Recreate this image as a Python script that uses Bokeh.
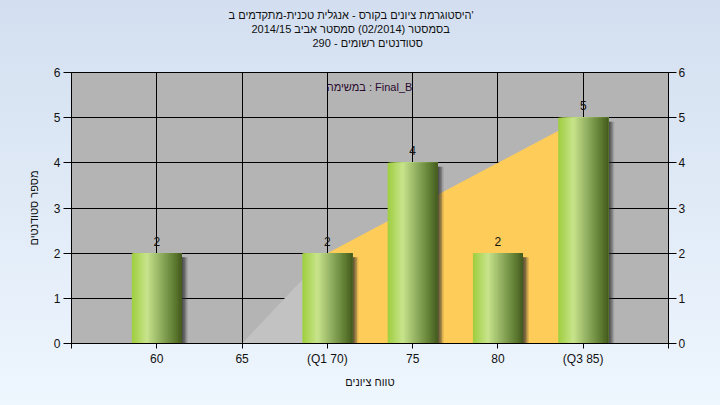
import numpy as np
from bokeh.plotting import figure
from bokeh.models import Range1d, FixedTicker, LinearAxis, Label, Title
from bokeh.embed import file_html
from bokeh.resources import INLINE
from bokeh.core.properties import value

# ---------------- data ----------------
title_lines = [
    "היסטוגרמת ציונים בקורס - אנגלית טכנית-מתקדמים ב'",
    "בסמסטר (02/2014) סמסטר אביב 2014/15",
    "סטודנטים רשומים - 290",
]
series_label = "במשימה : Final_B"
x_title = "טווח ציונים"
y_title = "מספר סטודנטים"
grades = [60, 65, 70, 75, 80, 85]
grade_labels = ["60", "65", "(Q1 70)", "75", "80", "(Q3 85)"]
counts = [2, 0, 2, 4, 2, 5]
iqr_x = [65, 70, 75, 80, 85]
iqr_y = [0, 2, 3, 4, 5]
q1, q3 = 70, 85
y_ticks = [0, 1, 2, 3, 4, 5, 6]

# ---------------- layout ----------------
W, H = 720, 405
BL, BR, BT, BB = 71, 52, 72, 62
FW, FH = W - BL - BR, H - BT - BB
X0, X1, Y0, Y1 = 55, 90, 0, 6
pxx = (X1 - X0) / FW  # data per px
pxy = (Y1 - Y0) / FH
FONT = "Liberation Sans"

def dx(refx):  # page px -> data x
    return X0 + (refx - BL) * pxx

def dy(refy):
    return Y1 - (refy - BT) * pxy

p = figure(width=W, height=H, x_range=Range1d(X0, X1), y_range=Range1d(Y0, Y1),
           output_backend="svg", toolbar_location=None,
           min_border_left=BL, min_border_right=BR, min_border_top=BT, min_border_bottom=BB)
p.border_fill_alpha = 0
p.background_fill_color = "#b4b4b4"
p.outline_line_color = "black"
p.outline_line_width = 1

# title: spacer next to the frame, then three lines (nearest-to-frame first)
p.add_layout(Title(text=" ", text_font=FONT, text_font_size="11px", standoff=9), "above")
title_left = [228, 251, 312]  # page x of each line's left edge (centred near x=360)
for line, lx in reversed(list(zip(title_lines, title_left))):
    p.add_layout(Title(text=line, align="left", offset=lx - BL, vertical_align="middle",
                       text_font=FONT, text_font_size="11px", text_font_style="normal",
                       text_color="#111111", standoff=0), "above")

# grids
p.xgrid.ticker = FixedTicker(ticks=grades)
p.ygrid.ticker = FixedTicker(ticks=y_ticks)
for g in (p.xgrid[0], p.ygrid[0]):
    g.grid_line_color = "black"
    g.grid_line_width = 1

# axes
xa = p.xaxis[0]
xa.ticker = FixedTicker(ticks=[X0] + grades + [X1])
xa.major_label_overrides = {**{g: l for g, l in zip(grades, grade_labels)}, X0: "", X1: ""}
xa.axis_label = x_title
ya = p.yaxis[0]
ya.ticker = FixedTicker(ticks=y_ticks)
ya.axis_label = y_title
ra = LinearAxis(ticker=FixedTicker(ticks=y_ticks))
p.add_layout(ra, "right")
for a in (xa, ya, ra):
    a.axis_line_color = "black"
    a.major_tick_line_color = "black"
    a.minor_tick_line_color = None
    a.major_tick_in = 0
    a.major_label_text_font = FONT
    a.major_label_text_font_size = "12px"
    a.major_label_text_color = "#111111"
    a.axis_label_text_font = FONT
    a.axis_label_text_font_size = "11px"
    a.axis_label_text_font_style = "normal"
    a.axis_label_text_color = "#111111"
xa.major_tick_out = 5
xa.major_label_standoff = 3
xa.axis_label_standoff = 7
ya.major_tick_out = 8
ya.major_label_standoff = 3
ya.axis_label_standoff = 11
ra.major_tick_out = 8
ra.major_label_standoff = 2

# inter-quartile area
qi = iqr_x.index(q1)
p.varea(x=iqr_x[:qi + 1], y1=0, y2=iqr_y[:qi + 1], fill_color="#c2c2c2")
p.varea(x=iqr_x[qi:], y1=0, y2=iqr_y[qi:], fill_color="#fecc58")

# bars
bar_w = 50 * pxx
bx = [g for g, c in zip(grades, counts) if c > 0]
bc = [c for c in counts if c > 0]
# soft shadow
for off, al in ((1.5, 0.35), (3.0, 0.35), (4.5, 0.3), (6.0, 0.15)):
    p.vbar(x=[x + off * pxx for x in bx], width=bar_w, bottom=0,
           top=[c - 4 * pxy for c in bc], fill_color="#303030", fill_alpha=al, line_color=None)

# cylinder gradient built from overlapping quads
stops = [(0.0, (158, 206, 62)), (0.3, (200, 228, 140)), (0.55, (150, 180, 100)),
         (0.85, (95, 125, 50)), (1.0, (68, 90, 30))]
def grad(t):
    for (t0, c0), (t1, c1) in zip(stops[:-1], stops[1:]):
        if t <= t1:
            f = (t - t0) / (t1 - t0)
            return "#%02x%02x%02x" % tuple(int(round(a + (b - a) * f)) for a, b in zip(c0, c1))
    return "#%02x%02x%02x" % stops[-1][1]

N = 40
sw = bar_w / N
ql, qr, qt, qc = [], [], [], []
for x, c in zip(bx, bc):
    for k in range(N):
        ql.append(x - bar_w / 2 + k * sw)
        qr.append(x + bar_w / 2)
        qt.append(c)
        qc.append(grad((k + 0.5) / N))
p.quad(left=ql, right=qr, bottom=0, top=qt, fill_color=qc, line_color=None)

# value labels
p.text(x=bx, y=bc, text=[str(c) for c in bc], y_offset=-12,
       text_align="center", text_baseline="middle", text_font=value(FONT),
       text_font_size="12px", text_color="#111111")

# series caption inside the frame
p.add_layout(Label(x=dx(369), y=dy(86), text=series_label, text_align="center",
                   text_baseline="middle", text_font=FONT, text_font_size="11px",
                   text_color="#2a0a30"))

html = file_html(p, INLINE)
html = html.replace("<head>", "<head><style>html{min-height:100%;background:linear-gradient(#d3dff0,#eef6fe) fixed;}body{background:transparent;}</style>", 1)
open("out.html", "w").write(html)
